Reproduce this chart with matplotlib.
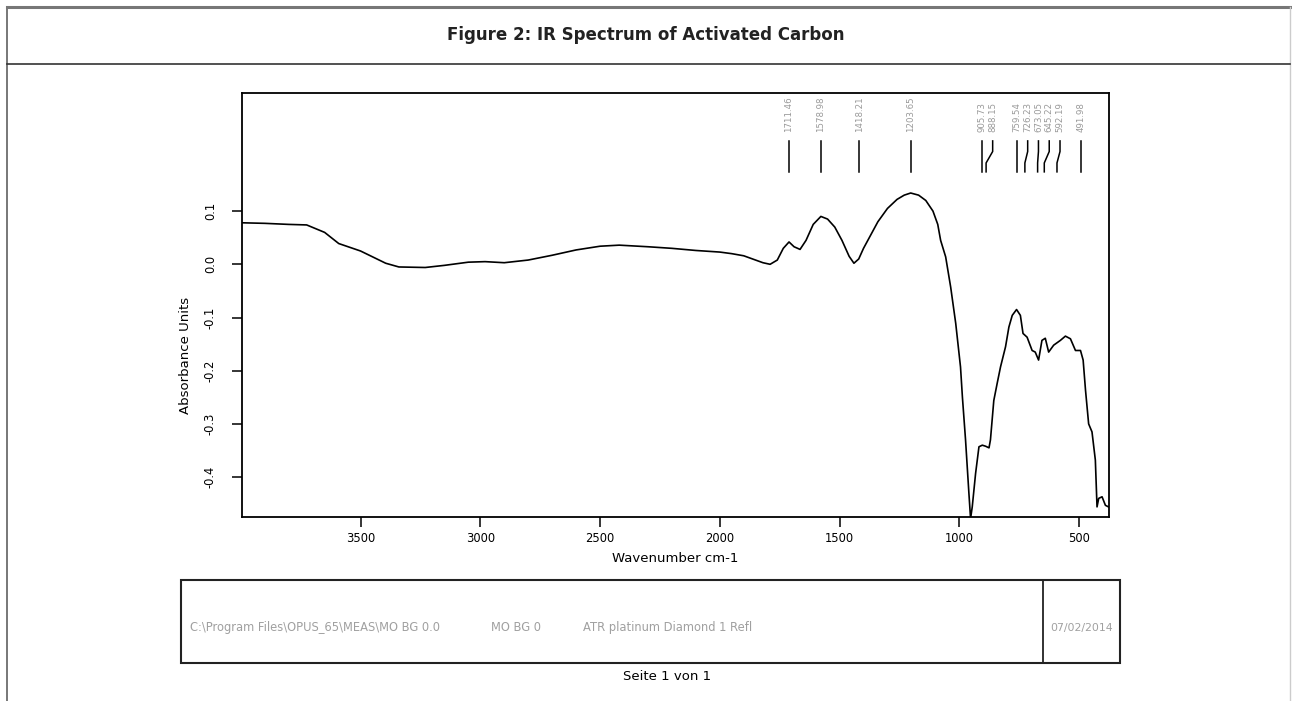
import matplotlib.pyplot as plt
from matplotlib.patches import Rectangle
import matplotlib.transforms as mtransforms

# spectrum (wavenumber cm-1, absorbance units)
wavenumber = [3992, 3900, 3800, 3725, 3650, 3591, 3500, 3395, 3340, 3230, 3150,
              3050, 2980, 2900, 2800, 2700, 2600, 2500, 2420, 2300, 2200, 2100,
              2000, 1950, 1900, 1820, 1790, 1760, 1735, 1711, 1690, 1665, 1640,
              1610, 1578, 1550, 1520, 1490, 1460, 1440, 1420, 1400, 1370, 1340,
              1300, 1260, 1230, 1203, 1170, 1140, 1110, 1090, 1078, 1057, 1036,
              1015, 995, 987, 974, 960, 953, 946, 932, 918, 904, 890, 876, 870,
              856, 842, 828, 807, 793, 779, 761, 745, 734, 717, 696, 683, 669,
              655, 641, 627, 606, 578, 557, 536, 515, 494, 483, 473, 460, 446,
              432, 425, 418, 404, 390, 377]
absorbance = [0.078, 0.077, 0.075, 0.074, 0.060, 0.039, 0.025, 0.002, -0.005, -0.006, -0.002,
              0.004, 0.005, 0.003, 0.008, 0.017, 0.027, 0.034, 0.036, 0.033, 0.030, 0.026,
              0.023, 0.020, 0.016, 0.003, 0.000, 0.008, 0.030, 0.042, 0.033, 0.028, 0.045,
              0.075, 0.090, 0.085, 0.070, 0.045, 0.015, 0.002, 0.010, 0.030, 0.055, 0.080,
              0.105, 0.122, 0.130, 0.134, 0.130, 0.120, 0.100, 0.075, 0.045, 0.014, -0.043,
              -0.111, -0.193, -0.250, -0.330, -0.430, -0.478, -0.456, -0.393, -0.343, -0.340, -0.342, -0.345, -0.330,
              -0.256, -0.224, -0.193, -0.155, -0.118, -0.096, -0.085, -0.096, -0.130, -0.137, -0.162, -0.165, -0.180,
              -0.143, -0.139, -0.165, -0.152, -0.143, -0.135, -0.140, -0.162, -0.162, -0.180, -0.237, -0.300, -0.315,
              -0.368, -0.456, -0.440, -0.437, -0.453, -0.456]

peak_positions = [1711.46, 1578.98, 1418.21, 1203.65, 905.73, 888.15,
                  759.54, 726.23, 673.05, 645.22, 592.19, 491.98]
peak_labels = ["1711.46", "1578.98", "1418.21", "1203.65", "905.73", "888.15",
               "759.54", "726.23", "673.05", "645.22", "592.19", "491.98"]

x_ticks = [3500, 3000, 2500, 2000, 1500, 1000, 500]
y_ticks = [0.1, 0.0, -0.1, -0.2, -0.3, -0.4]

plt.rcParams["font.family"] = ["DejaVu Sans"]

W, H = 1292, 701
fig = plt.figure(figsize=(W / 100, H / 100), dpi=100)

# page frame, title band and footer box drawn in pixel space
page = fig.add_axes([0, 0, 1, 1])
page.set_xlim(0, W)
page.set_ylim(H, 0)
page.axis("off")
page.plot([7, 7], [H, 7], color="#777777", lw=1.4)
page.plot([7, 1290], [7, 7], color="#777777", lw=2.2)
page.plot([1290, 1290], [7, H], color="#cccccc", lw=1.0)
page.plot([7, 1290], [64, 64], color="#333333", lw=1.2)
page.text(W / 2, 35, "Figure 2: IR Spectrum of Activated Carbon",
          ha="center", va="center", fontsize=12, fontweight="bold",
          color="#222222")

page.add_patch(Rectangle((181, 580), 939, 83, fill=False, ec="#222222", lw=1.5))
page.plot([1043, 1043], [580, 663], color="#222222", lw=1.3)
info_color = "#a0a0a0"
page.text(190, 631, r"C:\Program Files\OPUS_65\MEAS\MO BG 0.0", fontsize=8.3,
          color=info_color, va="baseline")
page.text(491, 631, "MO BG 0", fontsize=8.3, color=info_color, va="baseline")
page.text(583, 631, "ATR platinum Diamond 1 Refl", fontsize=8.3, color=info_color, va="baseline")
page.text(1082, 631, "07/02/2014", fontsize=7.8, color=info_color, va="baseline", ha="center")
page.text(667, 677, "Seite 1 von 1", fontsize=9.5, ha="center", va="center")

# spectrum axes
ax = fig.add_axes([242 / W, 1 - 517 / H, (1109 - 242) / W, (517 - 93) / H])
ax.plot(wavenumber, absorbance, color="black", lw=1.2)
ax.set_xlim(3995, 375)
ax.set_ylim(-0.475, 0.322)
ax.set_xticks(x_ticks)
ax.set_xticklabels([str(t) for t in x_ticks])
ax.set_yticks(y_ticks)
ax.set_yticklabels([f"{t:.1f}" for t in y_ticks], rotation=90, va="center")
ax.tick_params(direction="out", width=1.1, labelsize=8.3)
ax.tick_params(axis="x", length=7, pad=4)
ax.tick_params(axis="y", length=7, pad=11)
for s in ax.spines.values():
    s.set_linewidth(1.3)
ax.set_xlabel("Wavenumber cm-1", fontsize=9.5, labelpad=5)
ax.set_ylabel("Absorbance Units", fontsize=9.5, labelpad=8)
ax.yaxis.set_label_coords(-0.058, 0.382)

# peak picks: spread labels that would collide, then draw the leader lines
trans = mtransforms.blended_transform_factory(ax.transData, ax.transAxes)
gap = 45
label_pos = []
for w in peak_positions:
    if label_pos and label_pos[-1] - w < gap:
        label_pos.append(label_pos[-1] - gap)
    else:
        label_pos.append(w)
for w, lw_, lab in zip(peak_positions, label_pos, peak_labels):
    ax.plot([w, w, lw_, lw_], [0.814, 0.835, 0.862, 0.887], color="black",
            lw=1.1, transform=trans, clip_on=False)
    ax.text(lw_, 0.907, lab, rotation=90, ha="center", va="bottom", fontsize=6.2,
            color="#999999", transform=trans)

fig.savefig("out.png", dpi=100)
